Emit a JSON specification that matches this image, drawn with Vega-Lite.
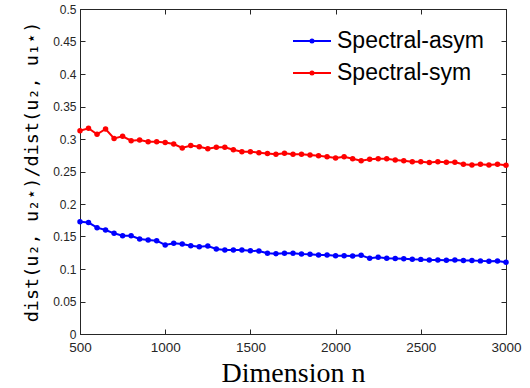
{
  "$schema": "https://vega.github.io/schema/vega-lite/v6.json",
  "autosize": {"type": "none"},
  "padding": {"left": 80, "top": 9, "right": 24, "bottom": 54},
  "width": 426,
  "height": 325,
  "background": "white",
  "config": {
    "view": {"stroke": "#262626", "strokeWidth": 1},
    "axis": {
      "grid": false,
      "domainColor": "#262626",
      "tickColor": "#262626",
      "labelColor": "#262626",
      "labelFont": "Liberation Sans",
      "labelFontSize": 12.5,
      "labelFlush": false,
      "tickSize": -5,
      "titleColor": "black"
    }
  },
  "datasets": {
    "d": [
      {"n": 500, "series": "Spectral-asym", "v": 0.1728},
      {"n": 550, "series": "Spectral-asym", "v": 0.1715},
      {"n": 600, "series": "Spectral-asym", "v": 0.1636},
      {"n": 650, "series": "Spectral-asym", "v": 0.1600},
      {"n": 700, "series": "Spectral-asym", "v": 0.1549},
      {"n": 750, "series": "Spectral-asym", "v": 0.1513},
      {"n": 800, "series": "Spectral-asym", "v": 0.1510},
      {"n": 850, "series": "Spectral-asym", "v": 0.1462},
      {"n": 900, "series": "Spectral-asym", "v": 0.1446},
      {"n": 950, "series": "Spectral-asym", "v": 0.1436},
      {"n": 1000, "series": "Spectral-asym", "v": 0.1369},
      {"n": 1050, "series": "Spectral-asym", "v": 0.1395},
      {"n": 1100, "series": "Spectral-asym", "v": 0.1385},
      {"n": 1150, "series": "Spectral-asym", "v": 0.1358},
      {"n": 1200, "series": "Spectral-asym", "v": 0.1343},
      {"n": 1250, "series": "Spectral-asym", "v": 0.1354},
      {"n": 1300, "series": "Spectral-asym", "v": 0.1308},
      {"n": 1350, "series": "Spectral-asym", "v": 0.1292},
      {"n": 1400, "series": "Spectral-asym", "v": 0.1292},
      {"n": 1450, "series": "Spectral-asym", "v": 0.1292},
      {"n": 1500, "series": "Spectral-asym", "v": 0.1282},
      {"n": 1550, "series": "Spectral-asym", "v": 0.1277},
      {"n": 1600, "series": "Spectral-asym", "v": 0.1241},
      {"n": 1650, "series": "Spectral-asym", "v": 0.1236},
      {"n": 1700, "series": "Spectral-asym", "v": 0.1241},
      {"n": 1750, "series": "Spectral-asym", "v": 0.1241},
      {"n": 1800, "series": "Spectral-asym", "v": 0.1231},
      {"n": 1850, "series": "Spectral-asym", "v": 0.1226},
      {"n": 1900, "series": "Spectral-asym", "v": 0.1215},
      {"n": 1950, "series": "Spectral-asym", "v": 0.1215},
      {"n": 2000, "series": "Spectral-asym", "v": 0.1205},
      {"n": 2050, "series": "Spectral-asym", "v": 0.1205},
      {"n": 2100, "series": "Spectral-asym", "v": 0.1200},
      {"n": 2150, "series": "Spectral-asym", "v": 0.1210},
      {"n": 2200, "series": "Spectral-asym", "v": 0.1164},
      {"n": 2250, "series": "Spectral-asym", "v": 0.1180},
      {"n": 2300, "series": "Spectral-asym", "v": 0.1164},
      {"n": 2350, "series": "Spectral-asym", "v": 0.1160},
      {"n": 2400, "series": "Spectral-asym", "v": 0.1158},
      {"n": 2450, "series": "Spectral-asym", "v": 0.1150},
      {"n": 2500, "series": "Spectral-asym", "v": 0.1148},
      {"n": 2550, "series": "Spectral-asym", "v": 0.1140},
      {"n": 2600, "series": "Spectral-asym", "v": 0.1138},
      {"n": 2650, "series": "Spectral-asym", "v": 0.1135},
      {"n": 2700, "series": "Spectral-asym", "v": 0.1138},
      {"n": 2750, "series": "Spectral-asym", "v": 0.1130},
      {"n": 2800, "series": "Spectral-asym", "v": 0.1130},
      {"n": 2850, "series": "Spectral-asym", "v": 0.1125},
      {"n": 2900, "series": "Spectral-asym", "v": 0.1120},
      {"n": 2950, "series": "Spectral-asym", "v": 0.1122},
      {"n": 3000, "series": "Spectral-asym", "v": 0.1105},
      {"n": 500, "series": "Spectral-sym", "v": 0.3128},
      {"n": 550, "series": "Spectral-sym", "v": 0.3165},
      {"n": 600, "series": "Spectral-sym", "v": 0.3072},
      {"n": 650, "series": "Spectral-sym", "v": 0.3154},
      {"n": 700, "series": "Spectral-sym", "v": 0.3008},
      {"n": 750, "series": "Spectral-sym", "v": 0.3042},
      {"n": 800, "series": "Spectral-sym", "v": 0.2974},
      {"n": 850, "series": "Spectral-sym", "v": 0.2985},
      {"n": 900, "series": "Spectral-sym", "v": 0.2958},
      {"n": 950, "series": "Spectral-sym", "v": 0.2958},
      {"n": 1000, "series": "Spectral-sym", "v": 0.2946},
      {"n": 1050, "series": "Spectral-sym", "v": 0.2923},
      {"n": 1100, "series": "Spectral-sym", "v": 0.2862},
      {"n": 1150, "series": "Spectral-sym", "v": 0.2900},
      {"n": 1200, "series": "Spectral-sym", "v": 0.2882},
      {"n": 1250, "series": "Spectral-sym", "v": 0.2851},
      {"n": 1300, "series": "Spectral-sym", "v": 0.2874},
      {"n": 1350, "series": "Spectral-sym", "v": 0.2872},
      {"n": 1400, "series": "Spectral-sym", "v": 0.2835},
      {"n": 1450, "series": "Spectral-sym", "v": 0.2805},
      {"n": 1500, "series": "Spectral-sym", "v": 0.2805},
      {"n": 1550, "series": "Spectral-sym", "v": 0.2789},
      {"n": 1600, "series": "Spectral-sym", "v": 0.2777},
      {"n": 1650, "series": "Spectral-sym", "v": 0.2766},
      {"n": 1700, "series": "Spectral-sym", "v": 0.2780},
      {"n": 1750, "series": "Spectral-sym", "v": 0.2766},
      {"n": 1800, "series": "Spectral-sym", "v": 0.2766},
      {"n": 1850, "series": "Spectral-sym", "v": 0.2754},
      {"n": 1900, "series": "Spectral-sym", "v": 0.2742},
      {"n": 1950, "series": "Spectral-sym", "v": 0.2728},
      {"n": 2000, "series": "Spectral-sym", "v": 0.2708},
      {"n": 2050, "series": "Spectral-sym", "v": 0.2728},
      {"n": 2100, "series": "Spectral-sym", "v": 0.2695},
      {"n": 2150, "series": "Spectral-sym", "v": 0.2666},
      {"n": 2200, "series": "Spectral-sym", "v": 0.2688},
      {"n": 2250, "series": "Spectral-sym", "v": 0.2697},
      {"n": 2300, "series": "Spectral-sym", "v": 0.2695},
      {"n": 2350, "series": "Spectral-sym", "v": 0.2677},
      {"n": 2400, "series": "Spectral-sym", "v": 0.2666},
      {"n": 2450, "series": "Spectral-sym", "v": 0.2651},
      {"n": 2500, "series": "Spectral-sym", "v": 0.2651},
      {"n": 2550, "series": "Spectral-sym", "v": 0.2638},
      {"n": 2600, "series": "Spectral-sym", "v": 0.2651},
      {"n": 2650, "series": "Spectral-sym", "v": 0.2643},
      {"n": 2700, "series": "Spectral-sym", "v": 0.2642},
      {"n": 2750, "series": "Spectral-sym", "v": 0.2612},
      {"n": 2800, "series": "Spectral-sym", "v": 0.2600},
      {"n": 2850, "series": "Spectral-sym", "v": 0.2611},
      {"n": 2900, "series": "Spectral-sym", "v": 0.2600},
      {"n": 2950, "series": "Spectral-sym", "v": 0.2612},
      {"n": 3000, "series": "Spectral-sym", "v": 0.2595}
    ]
  },
  "data": {"name": "d"},
  "resolve": {"axis": {"x": "independent", "y": "independent"}},
  "layer": [
    {
      "mark": {"type": "line", "strokeWidth": 2, "point": {"filled": true, "size": 30}},
      "encoding": {
        "x": {
          "field": "n", "type": "quantitative",
          "scale": {"domain": [500, 3000], "nice": false, "zero": false},
          "axis": {
            "values": [500, 1000, 1500, 2000, 2500, 3000],
            "format": "d",
            "labelFontSize": 13.5,
            "labelPadding": 11.5,
            "title": "Dimension n",
            "titleFont": "Liberation Serif",
            "titleFontSize": 28,
            "titleFontWeight": "normal",
            "titleBaseline": "middle",
            "titleY": 39
          }
        },
        "y": {
          "field": "v", "type": "quantitative",
          "scale": {"domain": [0, 0.5], "nice": false},
          "axis": {
            "values": [0, 0.05, 0.1, 0.15, 0.2, 0.25, 0.3, 0.35, 0.4, 0.45, 0.5],
            "format": "~g",
            "labelFontSize": 12,
            "labelPadding": 9,
            "title": "dist(u₂, u₂⋆)/dist(u₂, u₁⋆)",
            "titleFont": "DejaVu Sans Mono",
            "titleFontSize": 18.5,
            "titleFontWeight": "normal",
            "titleBaseline": "middle",
            "titleX": -49
          }
        },
        "color": {
          "field": "series", "type": "nominal",
          "scale": {"domain": ["Spectral-asym", "Spectral-sym"], "range": ["#0000FF", "#FF0000"]},
          "legend": {
            "orient": "none",
            "legendX": 212,
            "legendY": 12,
            "title": null,
            "labelFont": "Liberation Sans",
            "labelFontSize": 23,
            "labelColor": "black",
            "symbolType": "M -1 0 L 1 0 M 0.08 0 A 0.08 0.08 0 1 1 -0.08 0 A 0.08 0.08 0 1 1 0.08 0 Z",
            "symbolSize": 1444,
            "symbolStrokeWidth": 2,
            "labelOffset": 5,
            "rowPadding": -1
          }
        }
      }
    },
    {
      "mark": {"type": "point", "opacity": 0},
      "encoding": {
        "x": {
          "field": "n", "type": "quantitative",
          "axis": {"orient": "top", "values": [500, 1000, 1500, 2000, 2500, 3000], "labels": false, "title": null}
        },
        "y": {
          "field": "v", "type": "quantitative",
          "axis": {"orient": "right", "values": [0, 0.05, 0.1, 0.15, 0.2, 0.25, 0.3, 0.35, 0.4, 0.45, 0.5], "labels": false, "title": null}
        }
      }
    }
  ]
}
